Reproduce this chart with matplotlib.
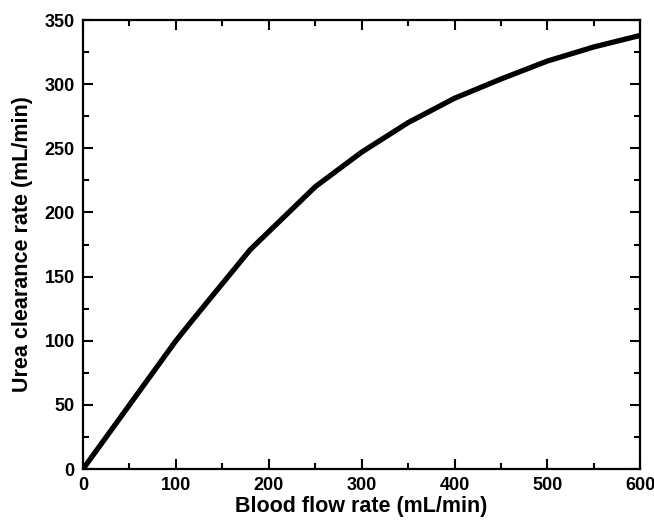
import numpy as np
import matplotlib
matplotlib.use('Agg')
import matplotlib.pyplot as plt
from matplotlib.ticker import MultipleLocator

# values
blood_flow = [0, 50, 100, 120, 180, 250, 300, 350, 400, 450, 500, 550, 600]
urea_clearance = [0, 50, 100, 118, 171, 220, 247, 270, 289, 304, 318, 329, 338]

plt.rcParams['font.family'] = ['Liberation Sans', 'DejaVu Sans']
plt.rcParams['font.weight'] = 'bold'

fig = plt.figure(figsize=(6.54, 5.21), dpi=100)
ax = fig.add_axes([0.127, 0.0998, 0.852, 0.8618])

ax.plot(blood_flow, urea_clearance, color='black', linewidth=3.8,
        solid_capstyle='butt', solid_joinstyle='round')

ax.set_xlim(0, 600)
ax.set_ylim(0, 350)
ax.xaxis.set_major_locator(MultipleLocator(100))
ax.xaxis.set_minor_locator(MultipleLocator(50))
ax.yaxis.set_major_locator(MultipleLocator(50))
ax.yaxis.set_minor_locator(MultipleLocator(25))

ax.tick_params(which='both', direction='in', top=True, right=True, width=1.5)
ax.tick_params(which='major', length=7, labelsize=13, pad=6)
ax.tick_params(which='minor', length=4)
for lbl in ax.get_xticklabels() + ax.get_yticklabels():
    lbl.set_fontweight('bold')
for s in ax.spines.values():
    s.set_linewidth(1.6)

ax.set_xlabel('Blood flow rate (mL/min)', fontsize=15.5, fontweight='bold', labelpad=1)
ax.set_ylabel('Urea clearance rate (mL/min)', fontsize=15.5, fontweight='bold', labelpad=8)

fig.savefig('out.png', dpi=100)
